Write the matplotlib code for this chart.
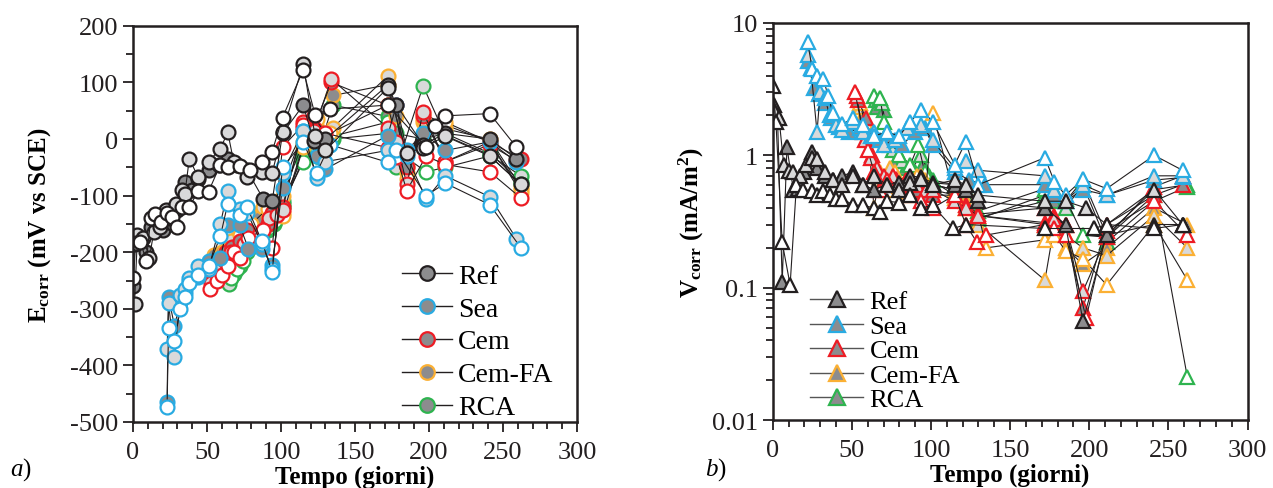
import numpy as np
import matplotlib
matplotlib.use("Agg")
import matplotlib.pyplot as plt
from matplotlib.ticker import MultipleLocator, LogLocator, FixedLocator, FixedFormatter, NullFormatter
from matplotlib.lines import Line2D

plt.rcParams["font.family"] = ["Liberation Serif", "DejaVu Serif"]
plt.rcParams["mathtext.fontset"] = "custom"
plt.rcParams["mathtext.rm"] = "Liberation Serif"
plt.rcParams["mathtext.bf"] = "Liberation Serif:bold"
plt.rcParams["mathtext.it"] = "Liberation Serif:italic"
plt.rcParams["mathtext.default"] = "bf"
plt.rcParams["axes.unicode_minus"] = False

# Materials and specimen order: dark gray, light gray, white filled
materials = ["Ref", "Sea", "Cem", "Cem-FA", "RCA"]

# ---- Ecorr (mV vs SCE), three specimens per material ----
E_ref_t = [[0, 2, 5, 9, 12, 16, 20, 23, 27, 30, 35, 40, 44, 51, 58, 64, 70, 77, 88, 94, 101, 115, 122, 130, 172, 178, 196, 211, 241, 259],
           [1, 3, 7, 11, 14, 18, 22, 25, 29, 33, 35, 38, 44, 51, 59, 64, 68, 77, 87, 94, 101, 115, 123, 130, 172, 185, 196, 211, 241, 262],
           [0, 1, 2, 5, 9, 12, 15, 19, 23, 26, 30, 33, 38, 44, 51, 59, 64, 72, 79, 87, 94, 101, 115, 123, 133, 172, 198, 204, 211, 241, 259]]
E_ref_v = [[-259, -175, -180, -200, -155, -150, -160, -130, -150, -125, -75, -90, -70, -55, -45, -35, -45, -55, -106, -110, 10, 60, -3, 0, 95, 60, -10, 10, 0, -35],
           [-291, -170, -175, -210, -165, -155, -125, -140, -115, -90, -97, -35, -67, -40, -17, 12, -40, -67, -59, -60, 13, 132, 5, -20, 90, -25, -15, 5, -30, -80],
           [-245, -185, -183, -182, -215, -140, -132, -146, -130, -138, -155, -120, -120, -92, -93, -45, -50, -47, -55, -40, -22, 38, 122, 43, 53, 60, -14, 23, 41, 45, -14]]

E_sea_t = [[23, 24, 28, 32, 35, 38, 44, 51, 59, 64, 72, 78, 87, 94, 101, 115, 124, 130, 172, 178, 185, 196, 211, 241, 259],
           [23, 24, 28, 32, 35, 38, 44, 51, 59, 64, 72, 77, 87, 94, 101, 115, 124, 130, 172, 185, 198, 211, 241, 259],
           [23, 24, 28, 32, 35, 38, 44, 51, 59, 64, 72, 77, 87, 94, 101, 115, 124, 133, 172, 178, 198, 211, 241, 262]]
E_sea_v = [[-464, -280, -330, -288, -272, -250, -244, -215, -210, -152, -152, -194, -194, -222, -86, 15, -30, -53, 6, 60, -20, 10, -20, -5, -40],
           [-371, -290, -385, -275, -265, -245, -224, -230, -150, -91, -124, -130, -185, -230, -60, 15, -69, -40, -20, -30, -106, -65, -102, -176],
           [-473, -334, -356, -300, -280, -255, -240, -225, -172, -114, -135, -120, -180, -235, -50, -5, -60, -10, -41, -20, -100, -78, -116, -192]]

E_cem_t = [[54, 59, 63, 67, 72, 77, 87, 91, 94, 101, 115, 122, 134, 172, 178, 185, 196, 211, 241, 262],
           [53, 58, 62, 66, 70, 75, 85, 92, 97, 101, 115, 122, 134, 172, 178, 185, 196, 211, 241, 259],
           [52, 57, 60, 64, 68, 72, 78, 88, 94, 101, 115, 122, 130, 172, 178, 185, 198, 211, 241, 262]]
E_cem_v = [[-240, -220, -200, -190, -180, -160, -190, -150, -130, -120, 20, 20, 100, 60, 60, -50, 40, -40, -5, -35],
           [-255, -230, -215, -200, -205, -185, -170, -140, -135, -125, 30, 15, 106, 20, -5, -80, 48, -40, -10, -38],
           [-265, -250, -240, -225, -200, -210, -175, -160, -192, -14, 25, 40, 10, -15, -32, -91, -30, -45, -58, -104]]

E_cfa_t = [[55, 60, 64, 70, 75, 85, 91, 95, 101, 115, 124, 135, 172, 178, 185, 196, 211, 241, 262],
           [57, 62, 66, 72, 78, 88, 94, 101, 115, 124, 135, 172, 185, 196, 211, 241, 262],
           [56, 61, 65, 72, 80, 91, 95, 101, 115, 124, 133, 172, 185, 196, 211, 241, 262]]
E_cfa_v = [[-205, -200, -190, -175, -160, -140, -135, -125, -130, -10, 20, 77, 96, 40, -60, 45, 25, -5, -90],
           [-241, -200, -180, -150, -125, -120, -115, -100, -5, 15, 20, 111, -50, 30, 18, 0, -85],
           [-220, -210, -195, -170, -150, -123, -118, -136, -14, 35, 10, 60, -70, 35, 30, -5, -95]]

E_rca_t = [[64, 68, 72, 77, 85, 91, 95, 101, 115, 124, 135, 172, 178, 196, 211, 241, 262],
           [65, 68, 72, 77, 85, 91, 95, 101, 115, 124, 135, 172, 178, 196, 211, 241, 262],
           [66, 70, 74, 80, 87, 92, 96, 101, 115, 124, 135, 172, 178, 198, 211, 241, 262]]
E_rca_v = [[-230, -220, -205, -195, -175, -160, -150, -110, -30, -30, 60, 40, 10, 0, 10, -25, -75],
           [-256, -238, -225, -200, -159, -157, -140, -120, -35, -30, 0, 10, -50, 94, 6, -28, -65],
           [-245, -230, -215, -190, -165, -150, -145, -115, -40, -20, 5, 30, -20, -58, -50, -30, -80]]

# ---- Vcorr (mA/m2), three specimens per material ----
V_ref_t = [[1, 3, 6, 9, 13, 16, 20, 25, 28, 33, 38, 44, 51, 57, 64, 72, 80, 87, 94, 101, 115, 122, 130, 172, 185, 196, 211, 241, 259],
           [1, 4, 7, 10, 13, 17, 21, 25, 28, 33, 38, 44, 51, 57, 64, 72, 80, 87, 94, 101, 115, 122, 130, 172, 185, 198, 211, 241, 259],
           [0, 2, 6, 11, 15, 19, 25, 28, 32, 36, 40, 44, 51, 57, 64, 68, 72, 80, 87, 94, 101, 114, 122, 172, 203, 211, 241, 259]]
V_ref_v = [[2.4, 2.0, 0.11, 1.15, 0.55, 0.56, 0.75, 1.06, 0.8, 0.7, 0.65, 0.7, 0.75, 0.6, 0.55, 0.6, 0.62, 0.7, 0.68, 0.62, 0.6, 0.55, 0.45, 0.4, 0.3, 0.056, 0.25, 0.3, 0.3],
           [2.2, 1.9, 0.84, 0.76, 0.75, 0.7, 0.85, 0.95, 0.94, 0.75, 0.65, 0.6, 0.7, 0.6, 0.7, 0.6, 0.55, 0.62, 0.66, 0.6, 0.65, 0.6, 0.5, 0.45, 0.45, 0.4, 0.3, 0.55, 0.3],
           [3.35, 1.8, 0.22, 0.105, 0.6, 0.55, 0.54, 0.5, 0.54, 0.5, 0.47, 0.47, 0.42, 0.42, 0.4, 0.37, 0.45, 0.44, 0.5, 0.4, 0.42, 0.28, 0.3, 0.28, 0.28, 0.3, 0.28, 0.3]]

V_sea_t = [[22, 26, 29, 33, 37, 42, 48, 55, 62, 68, 75, 82, 90, 96, 101, 115, 124, 134, 172, 178, 185, 196, 211, 241, 259],
           [22, 24, 28, 30, 33, 36, 40, 44, 51, 57, 64, 70, 77, 85, 94, 101, 115, 122, 130, 172, 178, 185, 196, 211, 241, 259],
           [22, 25, 28, 32, 35, 38, 44, 51, 57, 64, 72, 80, 87, 94, 101, 115, 122, 130, 172, 178, 185, 196, 211, 241, 259]]
V_sea_v = [[5.2, 3.2, 2.9, 2.5, 1.9, 1.65, 1.5, 1.6, 1.4, 1.3, 1.3, 1.2, 1.5, 1.6, 1.2, 0.75, 0.65, 0.6, 0.6, 0.5, 0.45, 0.55, 0.5, 0.65, 0.68],
           [5.7, 4.6, 1.5, 3.0, 2.7, 2.0, 1.7, 1.55, 1.8, 1.5, 1.5, 1.2, 1.3, 1.6, 1.7, 1.3, 0.8, 0.9, 0.77, 0.7, 0.55, 0.45, 0.6, 0.5, 0.7, 0.7],
           [7.2, 4.5, 4.0, 3.8, 2.8, 2.1, 1.73, 1.9, 1.7, 1.4, 1.5, 1.4, 1.8, 2.2, 1.8, 0.85, 1.27, 0.6, 0.96, 0.63, 0.5, 0.66, 0.56, 1.0, 0.77]]

V_cem_t = [[54, 59, 63, 67, 72, 78, 86, 92, 98, 101, 115, 122, 130, 172, 178, 185, 196, 211, 241, 259],
           [53, 58, 62, 66, 70, 76, 84, 91, 97, 101, 115, 122, 130, 172, 178, 185, 196, 211, 241, 259],
           [52, 57, 60, 64, 68, 72, 80, 87, 94, 101, 115, 122, 129, 135, 172, 178, 185, 198, 211, 241, 262]]
V_cem_v = [[2.6, 1.9, 1.0, 0.72, 0.62, 0.66, 0.58, 0.55, 0.5, 0.5, 0.5, 0.42, 0.36, 0.4, 0.35, 0.3, 0.07, 0.3, 0.5, 0.6],
           [2.8, 1.3, 0.95, 0.8, 0.7, 0.7, 0.65, 0.6, 0.55, 0.55, 0.45, 0.4, 0.35, 0.31, 0.33, 0.3, 0.094, 0.24, 0.58, 0.7],
           [3.0, 1.5, 1.1, 0.75, 0.55, 0.65, 0.6, 0.5, 0.45, 0.4, 0.5, 0.3, 0.22, 0.25, 0.3, 0.28, 0.25, 0.059, 0.27, 0.45, 0.25]]

V_cfa_t = [[57, 62, 66, 70, 76, 83, 90, 96, 101, 115, 122, 130, 172, 178, 185, 196, 211, 241, 262],
           [56, 60, 64, 68, 74, 80, 88, 94, 101, 115, 122, 130, 172, 178, 185, 196, 211, 241, 262],
           [55, 58, 63, 67, 72, 77, 85, 91, 97, 101, 115, 122, 128, 135, 172, 178, 185, 196, 211, 241, 262]]
V_cfa_v = [[2.0, 1.3, 0.7, 0.65, 0.7, 0.6, 0.6, 0.65, 0.6, 0.55, 0.4, 0.35, 0.3, 0.28, 0.2, 0.15, 0.2, 0.4, 0.3],
           [2.3, 1.6, 0.4, 0.75, 0.8, 0.6, 0.65, 0.7, 0.55, 0.5, 0.45, 0.3, 0.114, 0.3, 0.25, 0.2, 0.175, 0.35, 0.2],
           [2.5, 1.8, 0.95, 0.7, 0.55, 0.75, 0.5, 0.7, 0.6, 2.1, 0.48, 0.4, 0.45, 0.2, 0.23, 0.25, 0.19, 0.165, 0.105, 0.3, 0.114]]

V_rca_t = [[66, 70, 74, 78, 84, 90, 95, 100, 115, 122, 130, 172, 178, 185, 196, 211, 241, 262],
           [65, 69, 72, 76, 82, 88, 94, 99, 101, 115, 122, 130, 172, 178, 185, 196, 211, 241, 262],
           [64, 68, 70, 74, 80, 87, 92, 96, 101, 115, 122, 130, 172, 178, 185, 196, 211, 241, 262]]
V_rca_v = [[2.3, 2.2, 1.2, 0.9, 0.8, 0.75, 0.85, 0.65, 0.5, 0.45, 0.33, 0.5, 0.45, 0.45, 0.65, 0.25, 0.55, 0.6],
           [2.6, 2.5, 1.5, 1.1, 0.9, 0.8, 1.0, 0.7, 0.6, 0.55, 0.5, 0.34, 0.45, 0.55, 0.4, 0.6, 0.22, 0.45, 0.58],
           [2.8, 2.7, 1.8, 1.3, 1.0, 0.85, 1.2, 0.75, 0.65, 0.6, 0.55, 0.38, 0.56, 0.5, 0.47, 0.25, 0.24, 0.5, 0.021]]

E_data = [(E_ref_t, E_ref_v), (E_sea_t, E_sea_v), (E_cem_t, E_cem_v), (E_cfa_t, E_cfa_v), (E_rca_t, E_rca_v)]
V_data = [(V_ref_t, V_ref_v), (V_sea_t, V_sea_v), (V_cem_t, V_cem_v), (V_cfa_t, V_cfa_v), (V_rca_t, V_rca_v)]

edge_colors = ["#231f20", "#29abe2", "#ed1c24", "#fbb034", "#2eb34f"]
fills = ["#8c8c8e", "#d9d9da", "white"]
dark = "#231f20"

fig = plt.figure(figsize=(12.73, 4.89), dpi=100)
ax1 = fig.add_axes([0.1045, 0.135, 0.3488, 0.81])
ax2 = fig.add_axes([0.607, 0.139, 0.373, 0.812])

# Draw later materials first so Ref sits on top like the original
for i in [4, 3, 2, 1, 0]:
    for k in range(3):
        t, v = E_data[i][0][k], E_data[i][1][k]
        ax1.plot(t, v, color=dark, lw=0.8, marker="o", ms=10, mfc=fills[k],
                 mec=edge_colors[i], mew=1.6)
        t, v = V_data[i][0][k], V_data[i][1][k]
        ax2.plot(t, v, color=dark, lw=0.8, marker="^", ms=10.5, mfc=fills[k],
                 mec=edge_colors[i], mew=1.6)

for ax in (ax1, ax2):
    ax.set_xlim(0, 300)
    ax.xaxis.set_major_locator(MultipleLocator(50))
    ax.xaxis.set_minor_locator(MultipleLocator(10))
    ax.tick_params(which="both", direction="out", width=1.3, colors=dark,
                   labelsize=19, top=False, right=False)
    ax.tick_params(which="major", length=7)
    ax.tick_params(which="minor", length=5)
    ax.tick_params(axis="x", pad=7)
    for s in ax.spines.values():
        s.set_linewidth(1.8)
        s.set_color(dark)
    ax.set_xlabel("Tempo (giorni)", fontsize=18, fontweight="bold", labelpad=1)

ax1.set_ylim(-500, 200)
ax1.yaxis.set_major_locator(MultipleLocator(100))
ax1.yaxis.set_minor_locator(MultipleLocator(50))
ax1.set_ylabel("E$_{corr}$ (mV vs SCE)", fontsize=18, fontweight="bold", labelpad=12)

ax2.set_yscale("log")
ax2.set_ylim(0.01, 10)
ax2.yaxis.set_major_locator(FixedLocator([0.01, 0.1, 1, 10]))
ax2.yaxis.set_major_formatter(FixedFormatter(["0.01", "0.1", "1", "10"]))
ax2.yaxis.set_minor_locator(LogLocator(base=10, subs=np.arange(2, 10)))
ax2.yaxis.set_minor_formatter(NullFormatter())
ax2.set_ylabel("V$_{corr}$ (mA/m$^{2}$)", fontsize=18, fontweight="bold", labelpad=4)

h1 = [Line2D([], [], color=dark, lw=1, marker="o", ms=10.5, mfc=fills[0], mec=c, mew=1.6)
      for c in edge_colors]
ax1.legend(h1, materials, loc="lower right", bbox_to_anchor=(0.99, -0.045), frameon=False,
           fontsize=20, handlelength=1.8, handletextpad=0.2, labelspacing=0.27,
           borderaxespad=0.3)

h2 = [Line2D([], [], color="#555555", lw=1, marker="^", ms=11, mfc=fills[0], mec=c, mew=1.6)
      for c in edge_colors]
ax2.legend(h2, materials, loc="lower left", bbox_to_anchor=(0.04, -0.025), frameon=False,
           fontsize=19, handlelength=2.0, handletextpad=0.25, labelspacing=0.04,
           borderaxespad=0.3)

fig.text(0.008, 0.028, r"$\mathit{a}$)", fontsize=18)
fig.text(0.554, 0.028, r"$\mathit{b}$)", fontsize=18)

fig.savefig("out.png", dpi=100)
